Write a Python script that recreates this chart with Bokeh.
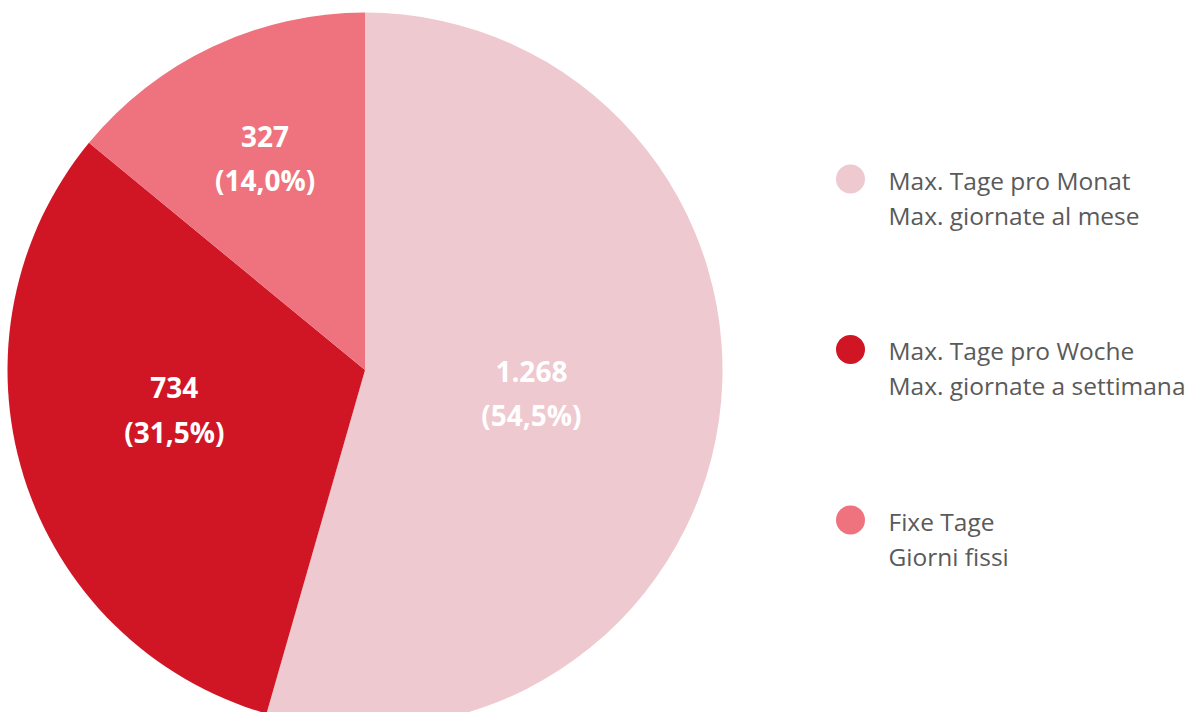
import math
from bokeh.plotting import figure
from bokeh.models import Range1d, ColumnDataSource
from bokeh.core.properties import value
from bokeh.embed import file_html
from bokeh.resources import INLINE

# ---- data ----
categories_de = ["Max. Tage pro Monat", "Max. Tage pro Woche", "Fixe Tage"]
categories_it = ["Max. giornate al mese", "Max. giornate a settimana", "Giorni fissi"]
counts = [1268, 734, 327]
count_labels = ["1.268", "734", "327"]
pct_labels = ["(54,5%)", "(31,5%)", "(14,0%)"]
colors = ["#EEC9D0", "#D01624", "#EF737E"]

# ---- layout / style ----
W, H = 1191, 712
FONT = "Open Sans"
TEXT_COLOR = "#5a5a5a"
cx, cy, R = 364.5, H - 369.5, 357.5
label_r = [0.47, 0.545, 0.655]
label_dang = [0.0, -5.5, 0.0]  # degrees

p = figure(width=W, height=H, output_backend="svg", toolbar_location=None,
           x_range=Range1d(0, W), y_range=Range1d(0, H),
           min_border=0, outline_line_color=None, background_fill_color="white",
           border_fill_color="white")
p.axis.visible = False
p.grid.visible = False

total = sum(counts)
starts, ends, mids = [], [], []
acc = 0.0
for c in counts:
    a0 = math.pi / 2 - 2 * math.pi * acc / total
    acc += c
    a1 = math.pi / 2 - 2 * math.pi * acc / total
    starts.append(a0)
    ends.append(a1)
    mids.append((a0 + a1) / 2)

src = ColumnDataSource(dict(start=starts, end=ends, color=colors))
p.wedge(x=cx, y=cy, radius=R, start_angle="start", end_angle="end",
        direction="clock", fill_color="color", line_color=None, source=src)

lx, ly = [], []
for m, f, d in zip(mids, label_r, label_dang):
    a = m + math.radians(d)
    lx.append(cx + f * R * math.cos(a))
    ly.append(cy + f * R * math.sin(a))

gap = 22
for txt, off in ((count_labels, gap), (pct_labels, -gap)):
    p.text(x=lx, y=[y + off for y in ly], text=txt, text_align="center",
           text_baseline="middle", text_color="white", text_font=value(FONT),
           text_font_style="bold", text_font_size="28px")

# legend
leg_x = 850
leg_y0 = H - 179.5
leg_dy = 170.5
line_gap = 35
ys = [leg_y0 - i * leg_dy for i in range(len(counts))]
p.scatter(x=[leg_x] * len(ys), y=[y + 1 for y in ys], size=29, marker="circle",
          fill_color=colors, line_color=None)
p.text(x=[leg_x + 38] * len(ys), y=ys, text=categories_de, text_align="left",
       text_baseline="middle", text_color=TEXT_COLOR, text_font=value(FONT),
       text_font_size="24.5px")
p.text(x=[leg_x + 38] * len(ys), y=[y - line_gap for y in ys], text=categories_it,
       text_align="left", text_baseline="middle", text_color=TEXT_COLOR,
       text_font=value(FONT), text_font_size="24.5px")

open("out.html", "w").write(file_html(p, INLINE))
